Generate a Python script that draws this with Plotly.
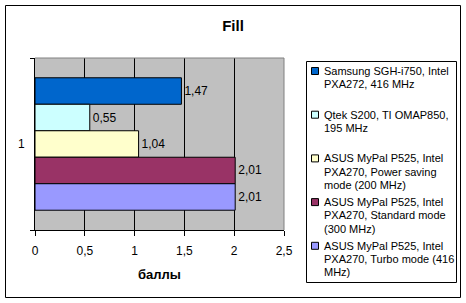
import plotly.graph_objects as go

# ---- data ----
category = ["1"]
series_names = [
    "Samsung SGH-i750, Intel<br>PXA272, 416 MHz",
    "Qtek S200, TI OMAP850,<br>195 MHz",
    "ASUS MyPal P525, Intel<br>PXA270, Power saving<br>mode (200 MHz)",
    "ASUS MyPal P525, Intel<br>PXA270, Standard mode<br>(300 MHz)",
    "ASUS MyPal P525, Intel<br>PXA270, Turbo mode (416<br>MHz)",
]
series_values = [1.47, 0.55, 1.04, 2.01, 2.01]
series_colors = ["#0066CC", "#CCFFFF", "#FFFFCC", "#993366", "#9999FF"]
x_tick_values = [0, 0.5, 1, 1.5, 2, 2.5]
title_text = "Fill"
x_title = "баллы"

FONT = "Liberation Sans, Arial, sans-serif"
W, H = 466, 303
L, R, T, B = 35, 284, 58, 230  # plot area in pixels


def px_x(px):
    return (px - L) / (R - L)


def px_y(py):
    return (B - py) / (B - T)


fig = go.Figure()
for name, val, col in zip(series_names, series_values, series_colors):
    fig.add_trace(go.Bar(
        y=category, x=[val], name=name, orientation="h",
        marker=dict(color=col, line=dict(color="black", width=1)),
        texttemplate="%{x:.2f}", textposition="outside",
        textfont=dict(family=FONT, size=12, color="black"),
        cliponaxis=False, showlegend=False,
    ))

shapes = []
annotations = []

# outer chart border
shapes.append(dict(type="rect", xref="paper", yref="paper",
                   x0=px_x(5.5), x1=px_x(460.5), y0=px_y(5.5), y1=px_y(297.5),
                   line=dict(color="black", width=1), layer="below"))
# plot area top / right border (gray)
shapes.append(dict(type="line", xref="paper", yref="paper", x0=0, x1=1, y0=1, y1=1,
                   line=dict(color="#808080", width=1), layer="above"))
shapes.append(dict(type="line", xref="paper", yref="paper", x0=1, x1=1, y0=0, y1=1,
                   line=dict(color="#808080", width=1), layer="above"))

# legend box
shapes.append(dict(type="rect", xref="paper", yref="paper",
                   x0=px_x(306.5), x1=px_x(456.5), y0=px_y(61.5), y1=px_y(282.5),
                   line=dict(color="black", width=1), fillcolor="white", layer="below"))
item_y0 = 71.0
item_step = 43.7
line_step = 13.3
for i, (name, col) in enumerate(zip(series_names, series_colors)):
    yc = item_y0 + i * item_step
    shapes.append(dict(type="rect", xref="paper", yref="paper",
                       x0=px_x(311.5), x1=px_x(318.5), y0=px_y(yc - 3.5), y1=px_y(yc + 3.5),
                       line=dict(color="black", width=1), fillcolor=col, layer="above"))
    for j, line in enumerate(name.split("<br>")):
        annotations.append(dict(xref="paper", yref="paper", x=px_x(322), y=px_y(yc + j * line_step),
                                xanchor="left", yanchor="middle", showarrow=False, text=line,
                                font=dict(family=FONT, size=11, color="black")))

fig.update_layout(
    width=W, height=H,
    margin=dict(l=L, r=W - R, t=T, b=H - B),
    paper_bgcolor="white", plot_bgcolor="#C0C0C0",
    separators=", ",
    barmode="group", bargap=0.23, bargroupgap=0,
    title=dict(text="<b>" + title_text + "</b>", x=0.5, xref="container", xanchor="center",
               y=1 - 26 / H, yref="container", yanchor="middle",
               font=dict(family=FONT, size=15, color="black")),
    font=dict(family=FONT, size=12, color="black"),
    shapes=shapes, annotations=annotations,
    showlegend=False,
)
fig.update_xaxes(
    range=[0, 2.5], tickvals=x_tick_values, tickformat="~r",
    showgrid=True, gridcolor="black", gridwidth=1, zeroline=False,
    showline=True, linecolor="black", linewidth=1,
    ticks="outside", ticklen=5, tickcolor="black", tickwidth=1,
    ticklabelstandoff=5,
    tickfont=dict(family=FONT, size=12, color="black"),
    title=dict(text="<b>" + x_title + "</b>", standoff=12,
               font=dict(family=FONT, size=13, color="black")),
)
fig.update_yaxes(
    type="category", autorange="reversed", tickson="boundaries",
    showgrid=False, zeroline=False,
    showline=True, linecolor="black", linewidth=1,
    ticks="outside", ticklen=4, tickcolor="black", tickwidth=1,
    ticklabelstandoff=7,
    tickfont=dict(family=FONT, size=12, color="black"),
)

fig.write_html("out.html")
